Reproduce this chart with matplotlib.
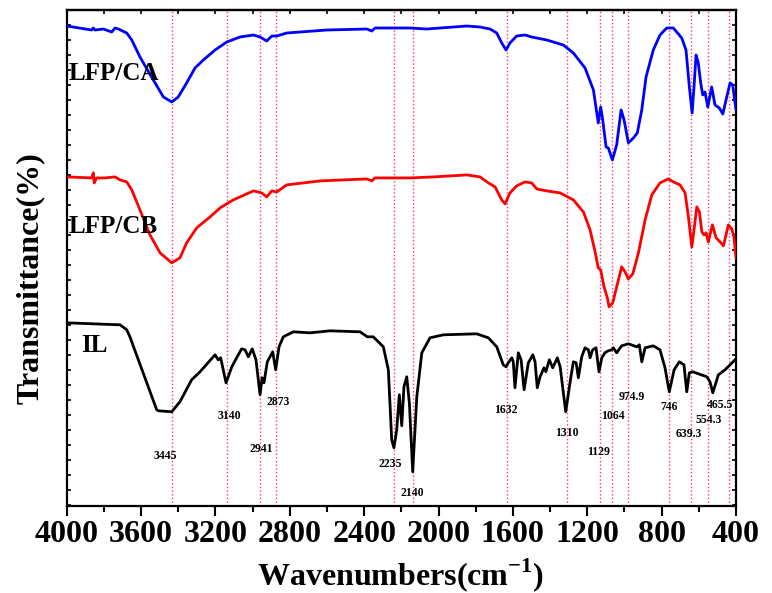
import numpy as np
import matplotlib.pyplot as plt

plt.rcParams['font.family'] = 'Liberation Serif'
plt.rcParams['font.weight'] = 'bold'
plt.rcParams['mathtext.fontset'] = 'custom'
plt.rcParams['mathtext.rm'] = 'Liberation Serif'
plt.rcParams['mathtext.bf'] = 'Liberation Serif:bold'

# LFP/CA spectrum (wavenumber, transmittance a.u.)
ca_wn = [4000, 3866, 3857, 3848, 3803, 3758, 3740, 3722, 3677, 3650, 3606, 3534, 3480, 3435,
         3400, 3355, 3310, 3265, 3202, 3139, 3068, 2996, 2960, 2924, 2897, 2870, 2817, 2601,
         2386, 2359, 2342, 2153, 2064, 1848, 1777, 1723, 1687, 1660, 1637, 1616, 1580, 1535,
         1499, 1418, 1329, 1275, 1212, 1167, 1141, 1128, 1117, 1099, 1087, 1065, 1042, 1018,
         1002, 979, 952, 931, 907, 884, 845, 809, 773, 737, 692, 669, 651, 636, 626, 615, 603,
         590, 579, 567, 552, 531, 513, 490, 471, 450, 432, 418, 400]
ca_t = [480, 476, 478, 476, 477, 474, 478, 477, 473, 466, 449, 426, 409, 404,
        409, 423, 438, 446, 456, 464, 469, 471, 469, 465, 470, 470, 473, 476,
        477, 475, 478, 478, 477, 480, 479, 477, 473, 463, 456, 463, 470, 471,
        469, 466, 461, 453, 438, 416, 383, 399, 386, 359, 358, 346, 361, 396,
        386, 363, 368, 373, 396, 429, 456, 471, 478, 478, 468, 456, 419, 393, 419, 451, 443,
        423, 411, 414, 399, 419, 401, 398, 392, 409, 423, 421, 396]

# LFP/CB spectrum
cb_wn = [4000, 3866, 3857, 3852, 3839, 3794, 3740, 3713, 3677, 3650, 3606, 3552, 3498, 3435,
         3391, 3355, 3301, 3229, 3175, 3104, 2996, 2951, 2924, 2897, 2870, 2817, 2637, 2386,
         2359, 2342, 2153, 2028, 1848, 1777, 1732, 1696, 1660, 1642, 1616, 1580, 1535, 1499,
         1472, 1418, 1346, 1275, 1221, 1185, 1158, 1141, 1128, 1110, 1092, 1083, 1063, 1042,
         1015, 997, 979, 955, 925, 889, 853, 809, 764, 737, 701, 674, 656, 638, 626, 611, 597,
         584, 572, 561, 549, 527, 507, 486, 468, 441, 423, 411, 400]
cb_t = [329, 328, 333, 323, 328, 328, 329, 326, 324, 316, 296, 271, 253, 243,
        248, 263, 278, 289, 298, 306, 315, 313, 309, 315, 314, 321, 325, 327,
        325, 328, 328, 329, 331, 329, 323, 319, 306, 302, 313, 320, 324, 323,
        317, 315, 313, 306, 294, 276, 254, 238, 236, 219, 208, 199, 203, 219,
        239, 234, 227, 232, 253, 286, 311, 323, 327, 324, 321, 313, 289, 259, 276, 299, 294,
        274, 271, 273, 264, 281, 268, 264, 260, 281, 277, 269, 248]

# IL spectrum
il_wn = [4000, 3713, 3677, 3660, 3516, 3507, 3435, 3391, 3328, 3283, 3202, 3185, 3172, 3143,
         3112, 3089, 3059, 3041, 3023, 3002, 2982, 2960, 2949, 2939, 2921, 2892, 2876, 2858,
         2835, 2781, 2691, 2584, 2422, 2383, 2351, 2297, 2270, 2252, 2240, 2225, 2211, 2198,
         2186, 2171, 2157, 2139, 2117, 2090, 2046, 1974, 1795, 1732, 1687, 1652, 1637, 1625,
         1606, 1598, 1589, 1571, 1556, 1540, 1517, 1493, 1481, 1469, 1454, 1433, 1423, 1404,
         1386, 1361, 1346, 1316, 1293, 1275, 1260, 1248, 1230, 1212, 1194, 1185, 1171, 1153,
         1137, 1122, 1105, 1087, 1069, 1060, 1042, 1015, 979, 934, 920, 907, 889, 845, 809,
         782, 759, 733, 705, 680, 665, 651, 633, 557, 540, 525, 495, 459, 405, 400]
il_t = [183, 181, 176, 169, 96, 95, 94, 104, 126, 134, 151, 146, 148, 123,
        139, 147, 157, 156, 149, 157, 146, 111, 128, 123, 144, 154, 136, 159,
        169, 174, 173, 175, 174, 169, 169, 159, 136, 66, 58, 76, 111, 80,
        119, 129, 103, 34, 109, 153, 168, 171, 172, 168, 159, 141, 139, 143,
        148, 144, 118, 153, 146, 116, 143, 151, 144, 118, 129, 138, 134, 146,
        138, 148, 139, 94, 123, 144, 143, 128, 149, 158, 156, 148, 156, 158,
        134, 148, 153, 155, 156, 158, 153, 160, 162, 159, 161, 144, 158, 160, 156,
        138, 114, 136, 144, 141, 114, 133, 134, 129, 124, 113, 131, 136, 146, 147]

# marked peaks: dotted line positions and label text
peak_lines = [3432, 3139, 2959, 2876, 2238, 2139, 1633, 1311, 1131, 1065, 980, 758, 643, 552, 438]
peak_labels = ['3445', '3140', '2941', '2873', '2235', '2140', '1632', '1310', '1129', '1064',
               '974.9', '746', '639.3', '554.3', '465.5']
label_wn = [3471, 3127, 2955, 2863, 2261, 2140, 1639, 1311, 1138, 1060, 963, 759, 656, 549, 484]
label_t = [50, 90, 57, 104, 42, 13, 96, 73, 54, 90, 109, 99, 72, 86, 101]

fig = plt.figure(figsize=(7.72, 5.93), dpi=100)
ax = fig.add_axes([0.0864, 0.1472, 0.8670, 0.8359])

for p in peak_lines:
    ax.axvline(p, color='#ff2d95', linestyle=':', linewidth=1.0, zorder=1)

style = dict(linewidth=2.0, zorder=3, solid_joinstyle='round', solid_capstyle='round')
ax.plot(ca_wn, ca_t, color='#0000ff', **style)
ax.plot(cb_wn, cb_t, color='#ff0000', **style)
ax.plot(il_wn, il_t, color='black', **style)

for txt, xw, yt in zip(peak_labels, label_wn, label_t):
    ax.text(xw, yt, txt, fontsize=8.5, fontweight='bold', ha='center', va='center')

ax.text(3990, 432, 'LFP/CA', fontsize=18, fontweight='bold', ha='left', va='center')
ax.text(3990, 279, 'LFP/CB', fontsize=18, fontweight='bold', ha='left', va='center')
ax.text(3925, 160, 'IL', fontsize=18, fontweight='bold', ha='left', va='center')

ax.set_xlim(4000, 400)
ax.set_ylim(0, 496)
ax.set_xticks(np.arange(4000, 399, -400))
ax.set_xticks(np.arange(3800, 399, -400), minor=True)
ax.set_yticks(np.arange(1, 496, 15))
ax.set_yticklabels([])
ax.tick_params(axis='x', which='major', direction='out', length=7, width=1.5,
               labelsize=23, pad=3, top=False)
ax.tick_params(axis='x', which='minor', direction='out', length=4.5, width=1.5, top=False)
ax.tick_params(axis='y', direction='in', length=3, width=1.2, left=True, right=True)

# inward ticks on the top spine
top = ax.secondary_xaxis('top')
top.set_xticks(np.arange(4000, 399, -200))
top.set_xticklabels([])
top.tick_params(direction='in', length=3, width=1.2)
top.spines['top'].set_linewidth(1.6)

for s in ax.spines.values():
    s.set_linewidth(1.6)

fig.text(401 / 772, 1 - 575 / 593, r'Wavenumbers(cm$^{\mathbf{-1}}$)', fontsize=23,
         fontweight='bold', ha='center', va='center')
fig.text(30 / 772, 1 - 278 / 593, 'Transmittance(%)', fontsize=23, fontweight='bold',
         rotation=90, ha='center', va='center')

plt.savefig('out.png', dpi=100)
